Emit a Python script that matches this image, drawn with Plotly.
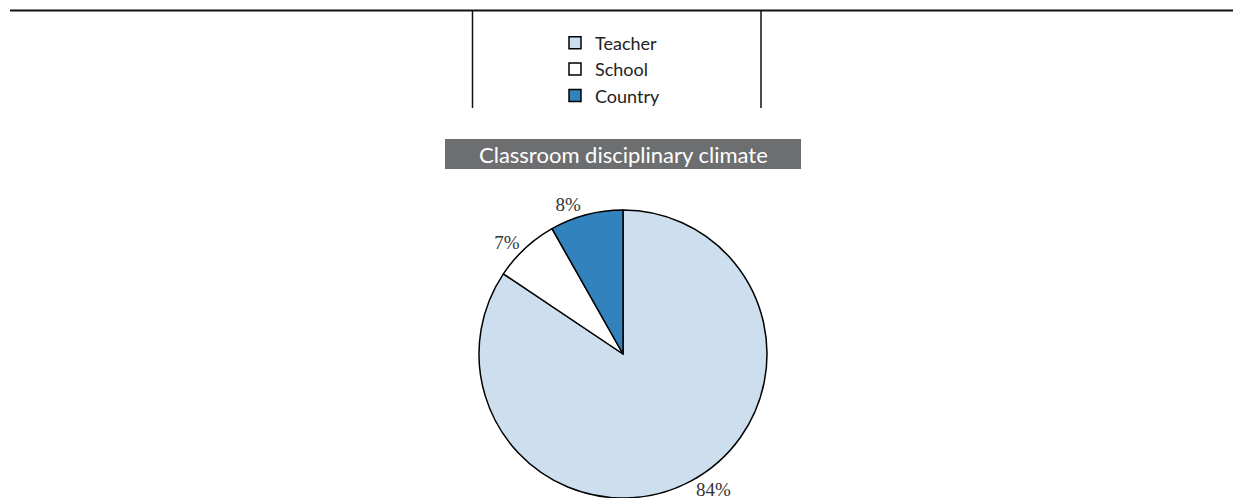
import plotly.graph_objects as go

# Data
categories = ["Teacher", "School", "Country"]
shares = [84.4, 7.4, 8.2]
colors = ["#cddfee", "#ffffff", "#3282be"]
chart_title = "Classroom disciplinary climate"

W, H = 1233, 498

def px(x):
    return x / W

def py(y):
    return 1 - y / H

fig = go.Figure()
fig.add_trace(go.Pie(
    labels=categories,
    values=shares,
    sort=False,
    direction="clockwise",
    rotation=0,
    marker=dict(colors=colors, line=dict(color="#000000", width=1.5)),
    textposition="outside",
    texttemplate="%{percent:.0%}",
    textfont=dict(family="Liberation Serif", size=19, color="#333333"),
    domain=dict(x=[px(479), px(767)], y=[py(498), py(210)]),
    hoverinfo="label+percent",
))

shapes = [
    # top rule
    dict(type="line", xref="paper", yref="paper", x0=px(10), x1=1, y0=py(10.5), y1=py(10.5),
         line=dict(color="#111111", width=2)),
    # legend frame sides
    dict(type="line", xref="paper", yref="paper", x0=px(472.5), x1=px(472.5), y0=py(11), y1=py(108),
         line=dict(color="#111111", width=1.5)),
    dict(type="line", xref="paper", yref="paper", x0=px(761), x1=px(761), y0=py(11), y1=py(108),
         line=dict(color="#111111", width=1.5)),
    # title band
    dict(type="rect", xref="paper", yref="paper", x0=px(445), x1=px(801), y0=py(169), y1=py(139),
         fillcolor="#6d6e70", line=dict(width=0), layer="below"),
]

annotations = [
    dict(text=chart_title, x=px(623), y=py(154), xref="paper", yref="paper",
         showarrow=False, xanchor="center", yanchor="middle",
         font=dict(family="Lato", size=22, color="#ffffff")),
]

fig.update_layout(
    width=W, height=H,
    autosize=False,
    margin=dict(l=0, r=0, t=0, b=0, autoexpand=False),
    paper_bgcolor="#ffffff",
    plot_bgcolor="#ffffff",
    shapes=shapes,
    annotations=annotations,
    showlegend=True,
    legend=dict(
        x=px(555), y=py(24.5), xanchor="left", yanchor="top",
        font=dict(family="Lato", size=18, color="#222222"),
        bgcolor="rgba(0,0,0,0)", borderwidth=0,
        tracegroupgap=0,
    ),
)

fig.write_html(
    "out.html",
    config={"displayModeBar": False, "responsive": False},
    post_script="document.body.style.margin='0';document.body.style.overflow='hidden';",
)
